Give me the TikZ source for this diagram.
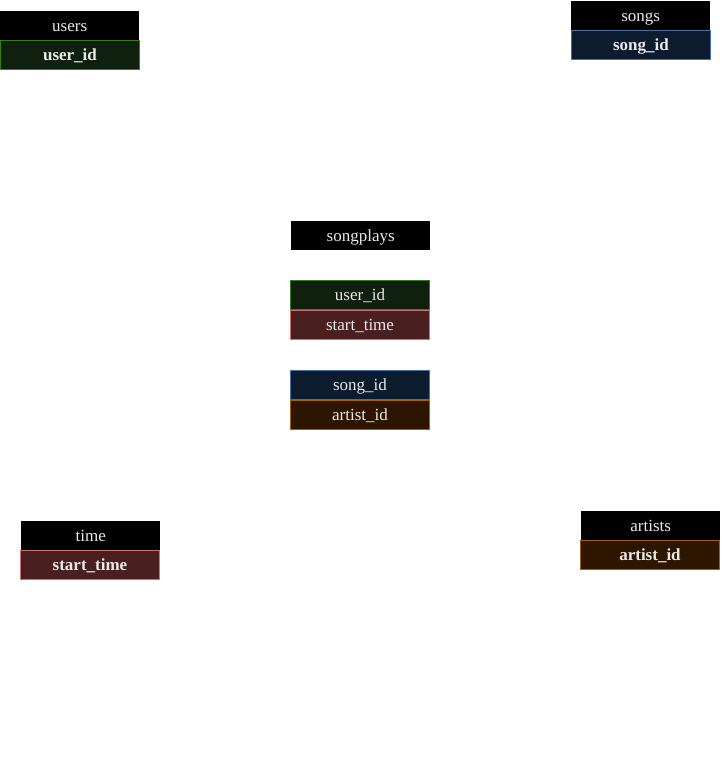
\documentclass[tikz,border=0pt]{standalone}
\usepackage{fontspec}
\setmainfont{Liberation Serif}
\definecolor{txt}{HTML}{EAEAEA}
\definecolor{userfill}{HTML}{10200F}
\definecolor{userline}{HTML}{3E7A22}
\definecolor{songfill}{HTML}{0C1B2E}
\definecolor{songline}{HTML}{4A6FA5}
\definecolor{timefill}{HTML}{4A1F1F}
\definecolor{timeline}{HTML}{D07070}
\definecolor{artistfill}{HTML}{2E1500}
\definecolor{artistline}{HTML}{A0600F}
\begin{document}
\begin{tikzpicture}[x=1pt, y=-1pt,
    every node/.style={anchor=north west, inner sep=0pt, text=txt,
        text height=13pt, text depth=2pt,
        font=\fontsize{17}{19}\selectfont},
    hdr/.style={fill=black, minimum width=139pt, minimum height=29pt},
    col/.style={minimum width=139pt, minimum height=29pt, line width=1pt},
    key/.style={font=\fontsize{17}{19}\selectfont\bfseries},
    usercol/.style={col, fill=userfill, draw=userline},
    songcol/.style={col, fill=songfill, draw=songline},
    timecol/.style={col, fill=timefill, draw=timeline},
    artistcol/.style={col, fill=artistfill, draw=artistline}]
    \useasboundingbox (0,0) rectangle (721,761);

    % users table
    \node[hdr] (users) at (0,11) {users};
    \node[usercol, key] (usersid) at (users.south west) {user\_id};

    % songs table
    \node[hdr] (songs) at (571,1) {songs};
    \node[songcol, key] (songsid) at (songs.south west) {song\_id};

    % songplays table
    \node[hdr] (plays) at (291,221) {songplays};
    \node[usercol] (playsuser) at (290,280) {user\_id};
    \node[timecol] (playstime) at (playsuser.south west) {start\_time};
    \node[songcol] (playssong) at (290,370) {song\_id};
    \node[artistcol] (playsartist) at (playssong.south west) {artist\_id};

    % time table
    \node[hdr] (time) at (21,521) {time};
    \node[timecol, key] (timestart) at (20,550) {start\_time};

    % artists table
    \node[hdr] (artists) at (581,511) {artists};
    \node[artistcol, key] (artistsid) at (580,540) {artist\_id};
\end{tikzpicture}
\end{document}
